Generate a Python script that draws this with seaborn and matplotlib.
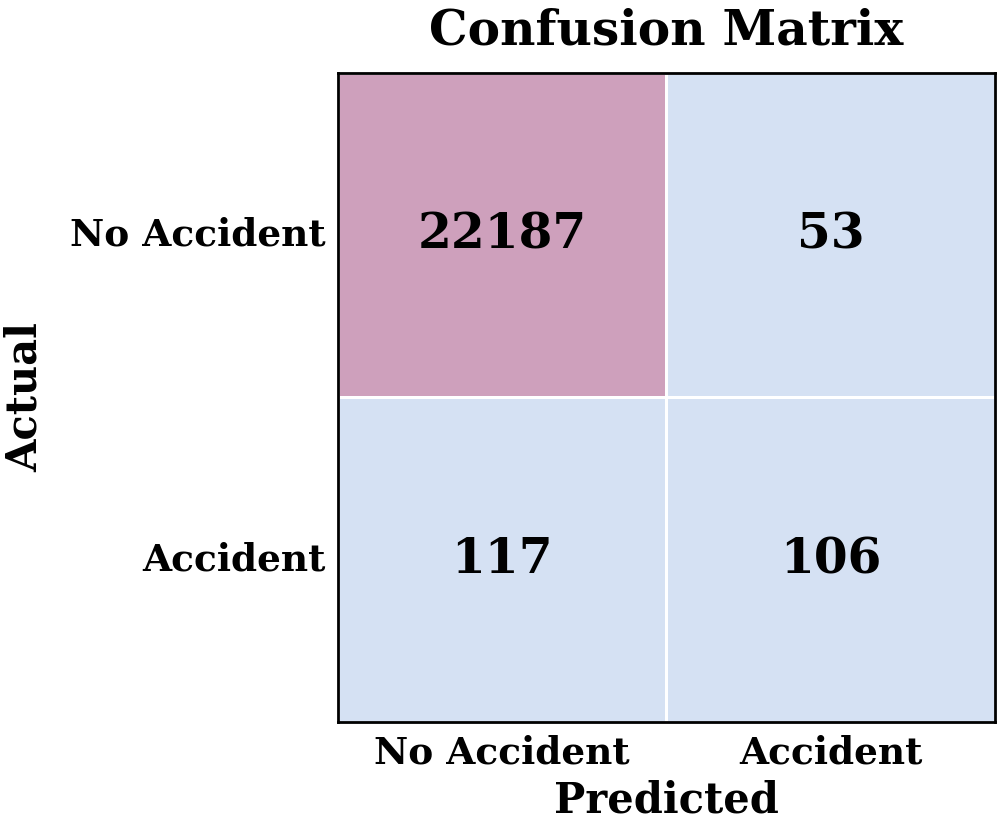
import numpy as np
import matplotlib
matplotlib.use("Agg")
import matplotlib.pyplot as plt
import seaborn as sns
from matplotlib.colors import LinearSegmentedColormap

# Confusion matrix values
class_labels = ["No Accident", "Accident"]
row_no_accident = [22187, 53]
row_accident = [117, 106]
cm = np.array([row_no_accident, row_accident])

sns.set_style("white")
plt.rcParams['font.family'] = ['DejaVu Serif']
plt.rcParams['font.weight'] = 'bold'
plt.rcParams['text.color'] = 'black'
plt.rcParams['axes.labelcolor'] = 'black'
plt.rcParams['xtick.color'] = 'black'
plt.rcParams['ytick.color'] = 'black'

cmap = LinearSegmentedColormap.from_list("cm", ["#d5e1f3", "#cea0bc"])

fig = plt.figure(figsize=(9.97, 8.26), dpi=100)
ax = fig.add_axes([0.339, 0.126, 0.659, 0.786])
sns.heatmap(cm, annot=True, fmt="d", cmap=cmap, cbar=False,
            linewidths=2, linecolor="white",
            xticklabels=class_labels, yticklabels=class_labels,
            annot_kws={"size": 35, "weight": "bold", "color": "black"}, ax=ax)

for s in ax.spines.values():
    s.set_visible(True)
    s.set_color("black")
    s.set_linewidth(2)

ax.set_title("Confusion Matrix", fontsize=35, fontweight="bold", pad=20)
ax.set_xlabel("Predicted", fontsize=30, fontweight="bold", labelpad=6)
ax.set_ylabel("Actual", fontsize=30, fontweight="bold", labelpad=17)
ax.tick_params(axis="both", labelsize=27, length=0, pad=9)
plt.setp(ax.get_xticklabels(), fontweight="bold", rotation=0)
plt.setp(ax.get_yticklabels(), fontweight="bold", rotation=0)

fig.savefig("out.png", dpi=100)
